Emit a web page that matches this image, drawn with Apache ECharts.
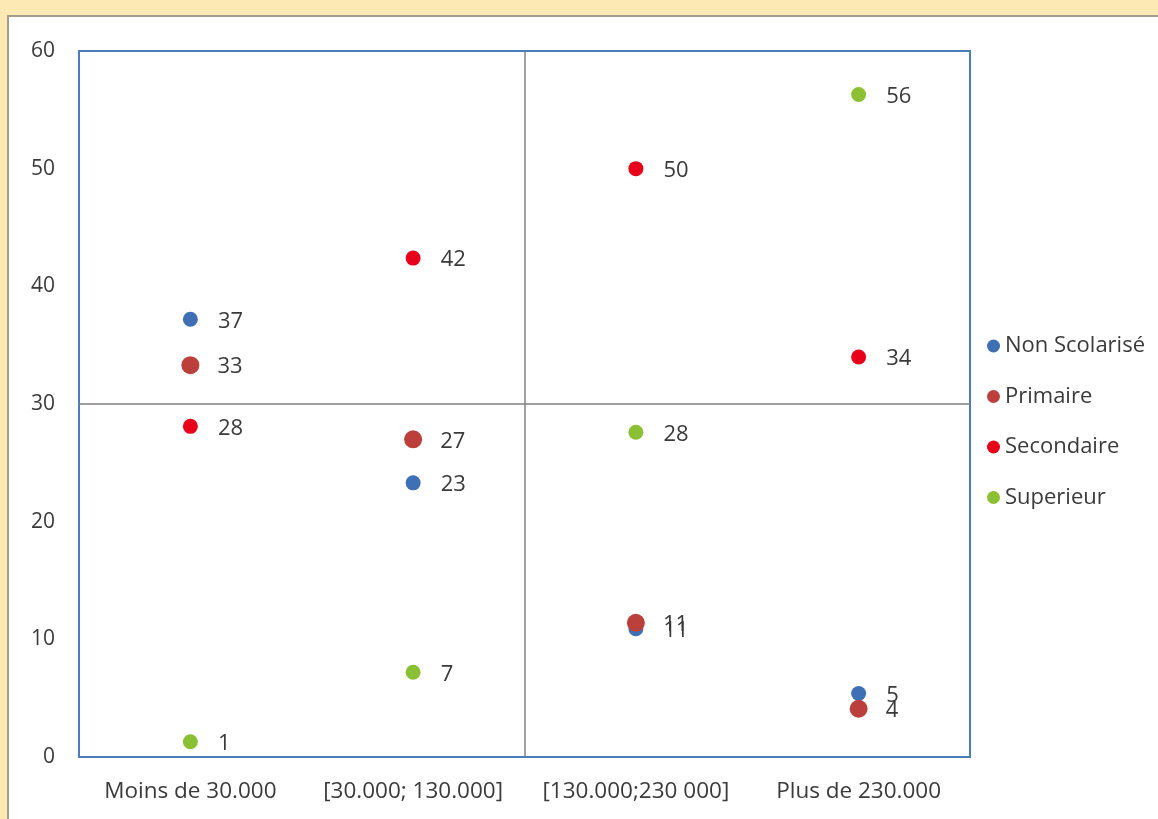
<!DOCTYPE html>
<html>
<head>
<meta charset="utf-8">
<script src="https://cdn.jsdelivr.net/npm/echarts@6/dist/echarts.min.js"></script>
<style>
  html, body { margin: 0; padding: 0; background: #fde9b3; overflow: hidden; }
  #panel {
    position: absolute; left: 7px; top: 15px; width: 1160px; height: 820px;
    background: #ffffff; border-left: 2px solid #a39d8d; border-top: 2px solid #a39d8d;
  }
  #chart { position: absolute; left: 0; top: 0; width: 1158px; height: 819px; }
</style>
</head>
<body>
<div id="panel"></div>
<div id="chart"></div>
<script>
// Income brackets
const categories = ['Moins de 30.000', '[30.000; 130.000]', '[130.000;230 000]', 'Plus de 230.000'];
const yTicks = { min: 0, max: 60, interval: 10 };

// Share (%) by education level in each bracket
const nonScolarise = [37.2, 23.3, 10.9, 5.4];
const primaire     = [33.3, 27.0, 11.4, 4.1];
const secondaire   = [28.1, 42.4, 50.0, 34.0];
const superieur    = [1.3, 7.2, 27.6, 56.3];

// Quadrant dividers: horizontal at 30 %, vertical between the 2nd and 3rd bracket
const dividerY = 30;
const dividerX = 2;

const seriesDefs = [
  { name: 'Non Scolarisé', data: nonScolarise, color: '#3f70b5', size: 15 },
  { name: 'Primaire',      data: primaire,     color: '#bb3f3b', size: 18 },
  { name: 'Secondaire',    data: secondaire,   color: '#e8001b', size: 15 },
  { name: 'Superieur',     data: superieur,    color: '#8cc034', size: 15 }
];

const font = '"Open Sans", "DejaVu Sans", sans-serif';
const textColor = '#3a3a3a';
const dividerStyle = { color: '#808080', width: 1.5, type: 'solid' };

const chart = echarts.init(document.getElementById('chart'), null, { renderer: 'canvas' });

const scatterSeries = seriesDefs.map((s, i) => ({
  name: s.name,
  type: 'scatter',
  data: s.data,
  symbol: 'circle',
  symbolSize: s.size,
  itemStyle: { color: s.color, opacity: 1 },
  z: 3 + i,
  label: {
    show: true,
    position: 'right',
    distance: s.size === 18 ? 18 : 20,
    offset: [0, 2],
    formatter: (p) => String(Math.round(p.value)),
    fontFamily: font, fontSize: 22, color: textColor
  }
}));

chart.setOption({
  backgroundColor: 'transparent',
  animation: false,
  grid: {
    left: 79, top: 51, right: 188, bottom: 62,
    show: true, borderColor: '#4a7dbd', borderWidth: 2, backgroundColor: 'transparent'
  },
  legend: {
    orient: 'vertical',
    left: 982, top: 330,
    itemWidth: 13, itemHeight: 13, itemGap: 28.5,
    icon: 'circle',
    textStyle: { fontFamily: font, fontSize: 22, lineHeight: 22, color: textColor, padding: [0, 0, 0, 0] },
    data: seriesDefs.map(s => ({ name: s.name, itemStyle: { color: s.color } }))
  },
  xAxis: [{
    type: 'category',
    data: categories,
    boundaryGap: true,
    axisLine: { show: false },
    axisTick: { show: false },
    axisLabel: { interval: 0, hideOverlap: false, margin: 23, fontFamily: font, fontSize: 22.5, color: textColor },
    splitLine: { show: false }
  }, {
    // hidden linear axis spanning the brackets, used to place the vertical divider
    type: 'value',
    min: 0, max: categories.length,
    show: false
  }],
  yAxis: {
    type: 'value',
    min: yTicks.min, max: yTicks.max, interval: yTicks.interval,
    axisLine: { show: false },
    axisTick: { show: false },
    splitLine: { show: false },
    axisLabel: { margin: 24, fontFamily: font, fontSize: 21, color: textColor }
  },
  series: [
    {
      type: 'scatter',
      xAxisIndex: 1,
      data: [],
      silent: true,
      z: 2,
      markLine: {
        silent: true,
        symbol: 'none',
        label: { show: false },
        lineStyle: dividerStyle,
        data: [{ xAxis: dividerX }, { yAxis: dividerY }]
      }
    },
    ...scatterSeries
  ]
});
</script>
</body>
</html>
